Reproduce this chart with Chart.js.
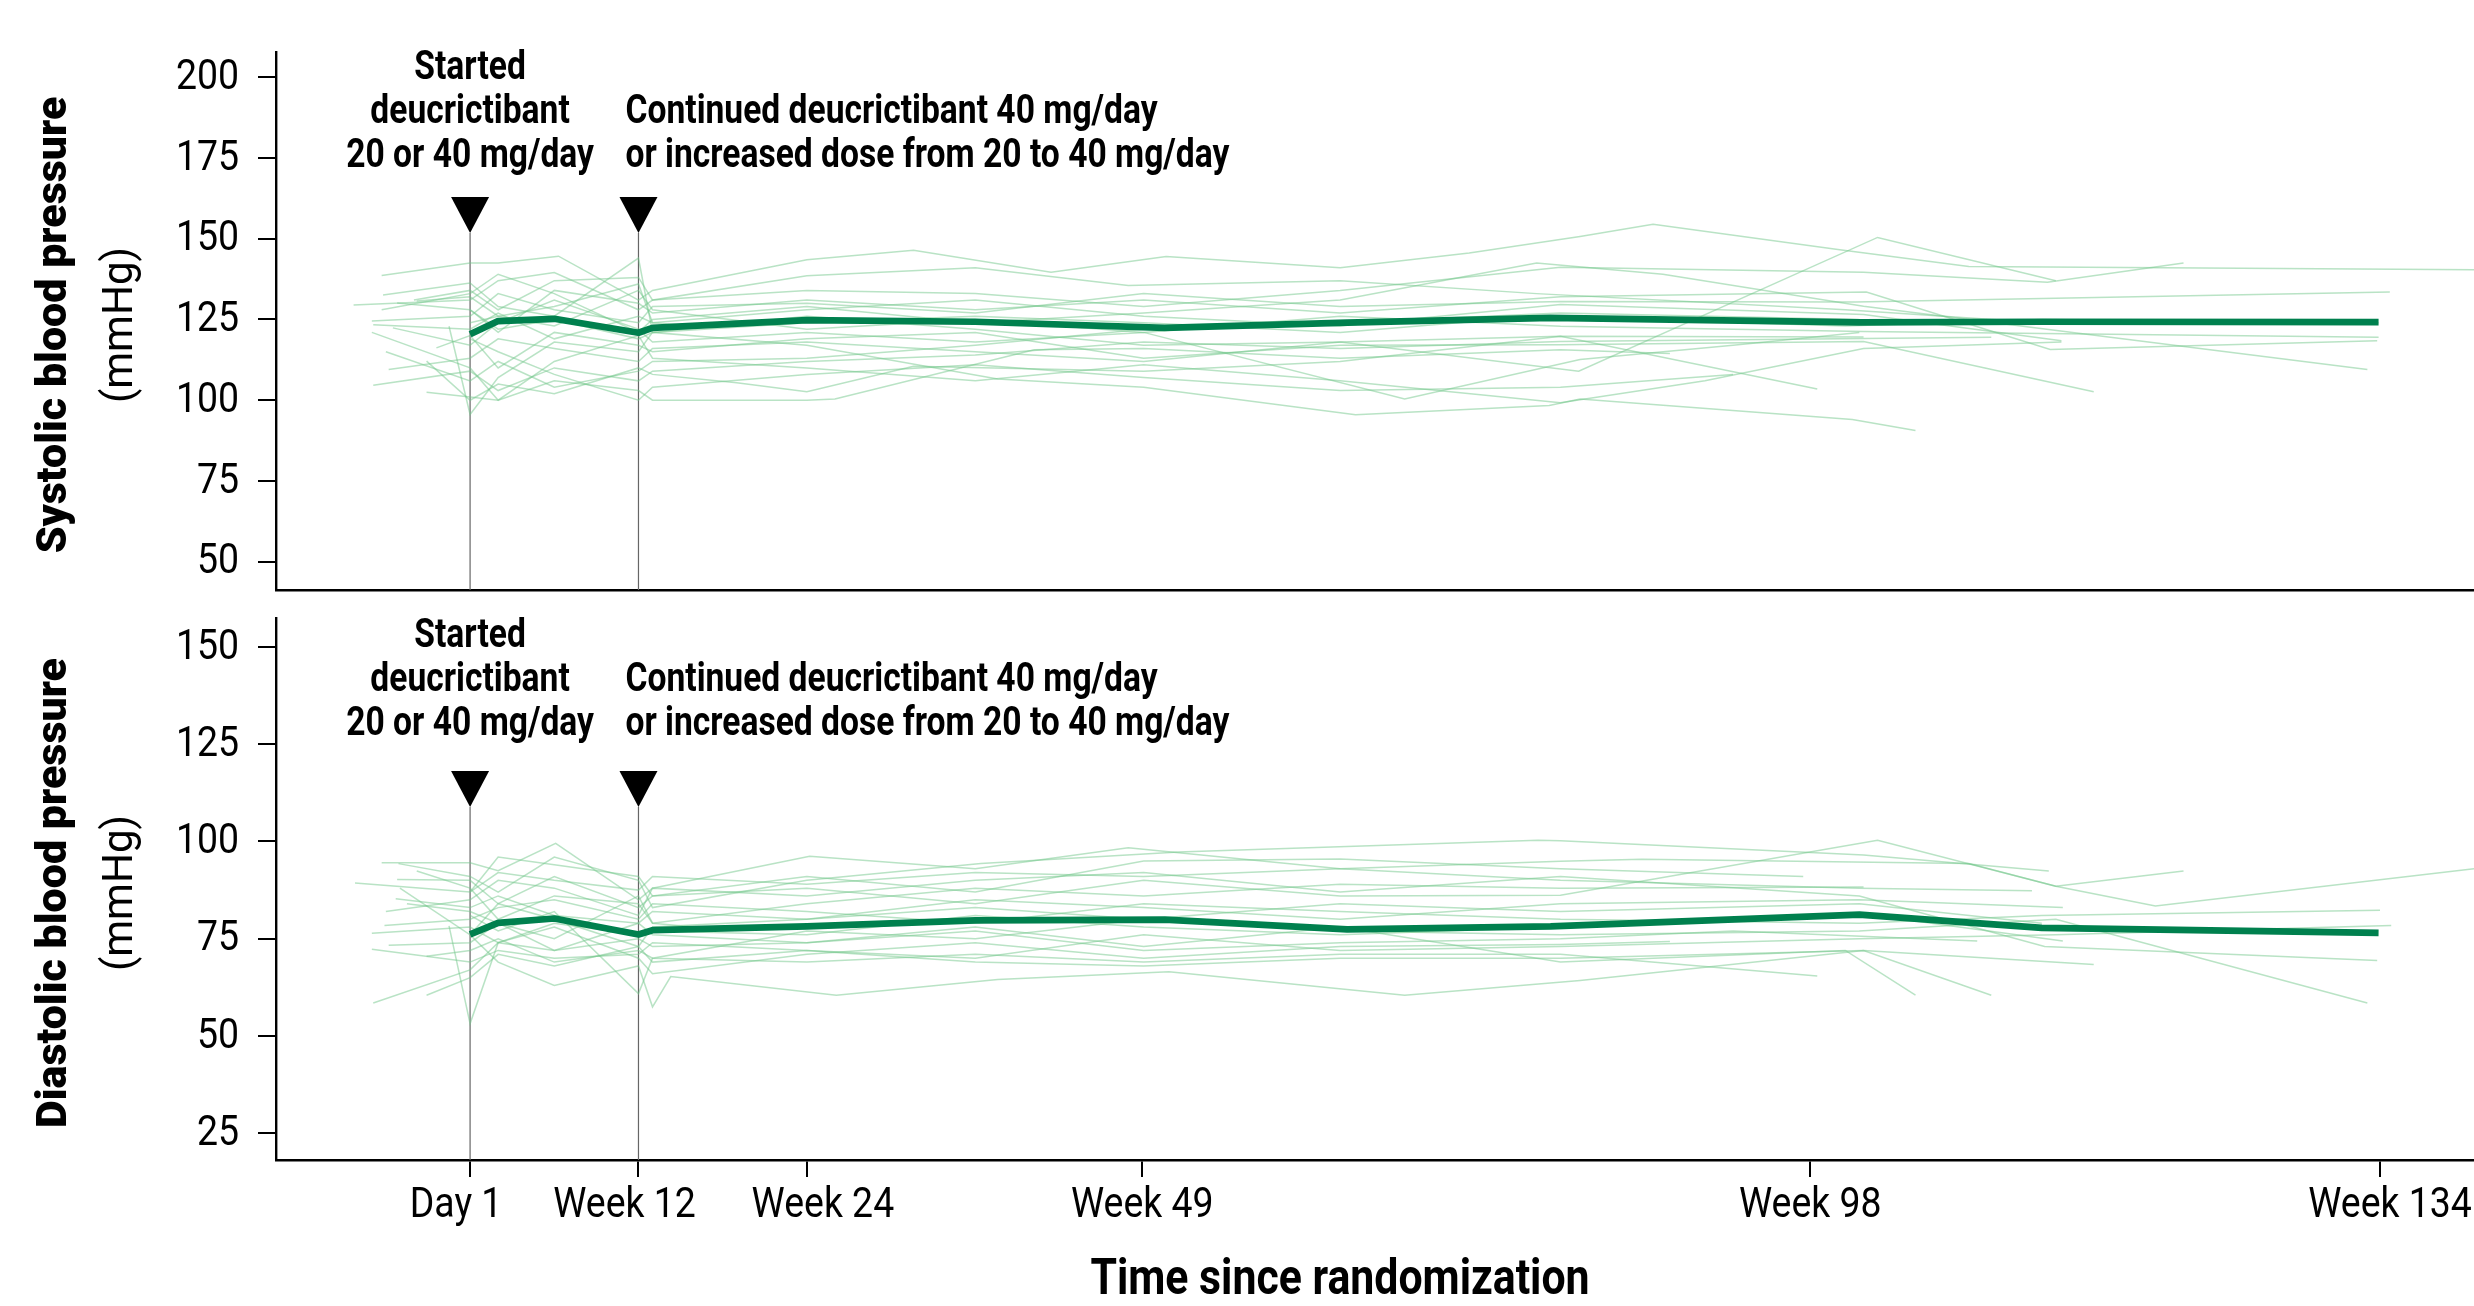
<!DOCTYPE html>
<html>
<head>
<meta charset="utf-8">
<title>Blood pressure over time</title>
<script src="https://cdn.jsdelivr.net/npm/chart.js@4.4.1/dist/chart.umd.min.js"></script>
<style>
  html, body { margin: 0; padding: 0; background: #fff; overflow: hidden; }
  #wrap { position: relative; width: 2474px; height: 1306px; }
  canvas { position: absolute; left: 0; }
  #sbpChart { top: 0; }
  #dbpChart { top: 600px; }
</style>
</head>
<body>
<div id="wrap">
  <canvas id="sbpChart" width="2474" height="600"></canvas>
  <canvas id="dbpChart" width="2474" height="706"></canvas>
</div>
<script>
// x axis: weeks since Day 1
const tickWeeks = [0, 12, 24, 47.9, 95.5, 136.1];
const tickLabels = ['Day 1', 'Week 12', 'Week 24', 'Week 49', 'Week 98', 'Week 134'];
const markerWeeks = [0, 12];
const sbpTicks = [50, 75, 100, 125, 150, 175, 200];
const dbpTicks = [25, 50, 75, 100, 125, 150];

// group mean
const meanWeeks = [0, 2, 6, 12, 13, 24, 36, 49.5, 62.5, 77, 99, 112, 136];
const sbpMean = [120.4, 124.5, 125.2, 120.9, 122.4, 124.8, 124.3, 122.4, 124, 125.5, 124.1, 124.3, 124.2];
const dbpMean = [76.1, 79.1, 80.2, 76.1, 77.2, 78.2, 79.7, 79.9, 77.4, 78.2, 81.2, 77.8, 76.5];

// individual patients, [week, mmHg]
const sbpPatients = [
  [[-6.3,138.6],[0,142.5],[2,142.5],[6.3,144.6],[12,131],[13,134],[24,143.5],[31.6,146.4],[41.4,139.6],[49.6,144.5],[62,141],[71.2,145.6],[79.1,150.7],[84.3,154.5],[97.6,146.6],[106.8,141.4],[142.8,140.4]],
  [[-8.3,129.5],[0,131],[2,137],[6,139.5],[12,128],[13,131],[24,134],[36,133],[48,129],[62,134],[77.7,141.2],[99.3,139.6],[112.4,136.5],[122.1,142.5]],
  [[-6.2,132.6],[0,136.3],[2,129],[6,126],[12,144],[13,121],[24,126],[36,122],[48,117],[62,118],[79,109],[100.3,150.4],[113,137]],
  [[-5.2,130.1],[0,128],[2,121],[6,134],[12,130],[13,127],[24,131],[36,128],[48,131],[62,127],[77.7,132],[99.5,133.5],[112.6,115.7],[135.9,118.4]],
  [[-7,124.5],[0,126],[2,133],[6,128],[12,124],[13,129],[24,130],[36,127],[48,133],[62,129],[77.7,130.6],[98.7,130.4],[136.8,133.5]],
  [[-6.9,123.4],[0,122],[2,127],[6,119],[12,126],[13,124],[24,128],[36,131],[48,126],[62,123],[77.7,129.6],[99.3,126.5],[113.4,118.4]],
  [[-5.5,122.4],[0,117],[2,124],[6,131],[12,122],[13,118],[24,121],[36,118],[48,121],[62,126],[77.7,122.9],[99.3,121.3],[136,119.5]],
  [[-5.8,109.5],[0,113],[2,119],[6,116],[12,112],[13,116],[24,118],[36,115],[48,112],[62,118],[77.7,119.8],[99.3,119.6]],
  [[-6.9,104.6],[0,109],[2,103],[6,110],[12,106],[13,109],[24,112],[36,114],[48,118],[62,116],[77.7,118.2],[108.4,119.5]],
  [[-3.1,102.5],[0,101],[2,100],[6,106],[12,103],[13,100],[24,100],[26,100.4],[40.2,115.6],[48,116],[62,113],[77.7,115.6],[85.5,114.5]],
  [[-2.4,116.2],[0,120],[2,110],[6,121],[12,117],[13,115],[24,119],[36,121],[48,113],[62,117],[77.7,117.2],[99.3,118.2],[115.7,102.6]],
  [[-3.1,112.1],[0,100],[2,105],[6,102],[12,110],[13,108],[19,105.4],[24,102.6],[31.6,110.5],[48,109],[62,112],[77.7,119.8],[96,103.5]],
  [[-1.5,122.9],[0,95.6],[2,107],[6,118],[12,115],[13,121],[24,117],[37.6,106.6],[48,104],[63.1,95.5],[76.9,98.4],[79.1,100.4],[98.5,94],[103,90.6]],
  [[-6.3,128],[0,133],[2,139],[6,133],[12,121],[13,125],[24,129],[36,124],[48,127],[62,131],[76,142.5],[85,139],[99.3,129.1],[135.2,109.5]],
  [[0,124],[2,126],[6,123],[12,134],[13,128],[24,122],[36,125],[48,121],[66.6,100.4],[79.1,112.6],[90,117],[99,121]],
  [[-4,131],[0,134],[2,128],[6,137],[12,138],[13,131],[24,138.5],[36,141],[46.9,135.5],[62,137],[76,133],[98,128],[112,124]],
  [[-3.8,130.7],[0,132],[2,126],[6,129],[12,136],[13,124],[16,123]],
  [[-7,121],[0,110],[2,100],[6,112],[12,120],[13,113],[24,110],[36,106],[48,111],[62,106],[77.7,99.2],[88,106],[99.3,116],[113.4,118]],
  [[0,119],[2,115],[6,108],[12,100],[13,104],[24,108],[36,111],[48,107],[62,103],[77.7,104],[90,108]],
  [[-6,115],[0,106],[2,112],[6,104],[12,109],[13,112],[24,113],[36,117],[48,122],[62,124],[77.7,127],[99,125]],
  [[0,128],[2,122],[6,125],[12,119],[13,121],[24,124],[36,126],[48,124],[62,121],[76,126],[98,123],[112,125],[136,124]]
];

const dbpPatients = [
  [[-6.3,94.5],[0,94.5],[2,92.5],[6.1,99.5],[12,85],[13,88],[24.2,96.2],[36,93],[46.9,98.4],[62,93],[77.7,90],[99,88],[111.3,87.3]],
  [[-5.1,94.3],[0,91],[2,87],[6,96],[12,90],[13,83],[24,90],[36.4,94.3],[50.5,97.3],[76.1,100.3],[77.7,100.2],[99.3,96.5],[112.5,92.4]],
  [[-8.2,89.3],[0,87],[2,92],[6,90],[12,87.5],[13,91],[24,89],[36,92],[48,91],[62,93],[77.7,94.9],[83.5,95.4],[106.8,94.3],[113,88.5],[120.1,83.4],[142.8,93]],
  [[-5.2,90.2],[0,90],[2,84],[6,91],[12,83],[13,86],[24,88],[36,84],[48,90],[62,86],[77.7,86.2],[100.3,100.3],[113,88.5],[122.1,92.4]],
  [[-3.8,92.4],[0,88],[2,80],[6,86],[12,84],[13,79],[24,84],[36,88],[48,86],[62,89],[77.7,88],[99.3,88.3]],
  [[-5.3,85.3],[0,83],[2,86],[6,81],[12,79],[13,82],[24,80],[36,85],[48,83],[62,80],[77.7,84],[99,85],[113.5,83]],
  [[-6.1,78.4],[0,80],[2,83],[6,85],[12,80],[13,84],[24,82],[36,79],[48,84],[62,82],[77.7,80],[99,79],[112,81],[136.1,82.3]],
  [[-7,76.4],[0,78],[2,74],[6,79],[12,76],[13,77],[24,76],[36,81],[48,78],[62,76],[77.7,78],[99,81.5],[113.5,74.4]],
  [[-5.8,73.3],[0,74],[2,79],[6,72],[12,75],[13,73],[24,74],[36,77],[48,72],[62,74],[77.7,75],[90,77],[107.4,74.4]],
  [[-7,72.3],[0,69],[2,72],[6,70],[12,71],[13,74],[24,72],[36,70],[48,76],[62,72],[77.7,73],[99,75],[113,76],[136.9,78.4]],
  [[-3.1,70.5],[0,72],[2,75],[6,69],[12,72],[13,70],[24,69],[36,71],[48,69],[62,71],[77.7,71],[96,65.4]],
  [[-6.9,58.5],[0,67],[2,74],[6,78],[12,70],[13,66],[24,71],[36,74],[48,70],[62,73],[77.7,73.5],[85.5,74.3]],
  [[-3.1,60.5],[0,65],[2,71],[6,68],[12,73],[13,69],[24,72],[36,69],[48,68],[62,70],[77.7,70],[99.3,72],[115.7,68.4]],
  [[-1.5,78.3],[0,53.2],[2,74],[6,72],[12,79],[13,76],[24,74],[36,78],[48,73],[62,78],[77.7,69],[98,72],[103,60.5]],
  [[0,76],[2,69],[6,63],[12,68],[13,57.5],[14.3,65.3],[26.1,60.5],[37.6,64.5],[49.8,66.5],[66.6,60.5],[79.1,64.3],[99.3,72],[108.4,60.5]],
  [[-6,82],[0,85],[2,90],[6,88],[12,81],[13,88],[24,86],[36,90],[48,92],[62,87],[77.7,91],[99,86],[112.2,73],[135.9,69.4]],
  [[0,81],[2,77],[6,82],[12,60.9],[13,70],[24,77],[36,75],[48,80],[62,77],[77.7,76],[99,77],[113,80],[135.2,58.5]],
  [[-4.5,84],[0,82],[2,79],[6,75],[12,86],[13,79],[16,78]],
  [[0,87],[2,96],[6,94],[12,91],[13,86],[24,91],[36,87],[48,95],[62,95.5],[77.7,93],[95,91]],
  [[-5,88],[0,76],[2,84],[6,80],[12,73],[13,78],[24,80],[36,83],[48,80],[62,84],[77.7,82],[99,84],[112,79]]
];

const startText = ['Started', 'deucrictibant', '20 or 40 mg/day'];
const contText = ['Continued deucrictibant 40 mg/day', 'or increased dose from 20 to 40 mg/day'];

// per-panel layout
const panels = {
  sbpChart: { title: 'Systolic blood pressure', ticks: sbpTicks, textTop: 27, triTop: 145, tip: 181, xLabels: false },
  dbpChart: { title: 'Diastolic blood pressure', ticks: dbpTicks, textTop: 29, triTop: 153, tip: 189, xLabels: true }
};
const xLabelNudge = [-14, -14, 16, 0, 0, 10];

function drawText(ctx, text, x, y, o) {
  ctx.save();
  ctx.font = o.font;
  ctx.fillStyle = '#000';
  ctx.textAlign = o.align || 'left';
  ctx.textBaseline = o.baseline || 'alphabetic';
  ctx.translate(x, y);
  if (o.rotate) ctx.rotate(o.rotate);
  ctx.scale(o.sx || 1, 1);
  ctx.fillText(text, 0, 0);
  ctx.restore();
}

const panelDecor = {
  id: 'panelDecor',
  beforeDatasetsDraw(chart) {
    const p = panels[chart.canvas.id];
    const { ctx, chartArea: a } = chart;
    const x = chart.scales.x;
    ctx.save();
    ctx.strokeStyle = '#666';
    ctx.lineWidth = 1.2;
    markerWeeks.forEach(w => {
      const px = x.getPixelForValue(w);
      ctx.beginPath();
      ctx.moveTo(px, a.top + p.tip);
      ctx.lineTo(px, a.bottom);
      ctx.stroke();
    });
    ctx.restore();
  },
  afterDraw(chart) {
    const p = panels[chart.canvas.id];
    const { ctx, chartArea: a } = chart;
    const x = chart.scales.x, y = chart.scales.y;

    // triangles
    ctx.save();
    ctx.fillStyle = '#000';
    markerWeeks.forEach(w => {
      const px = x.getPixelForValue(w);
      ctx.beginPath();
      ctx.moveTo(px - 19, a.top + p.triTop);
      ctx.lineTo(px + 19, a.top + p.triTop);
      ctx.lineTo(px, a.top + p.tip);
      ctx.closePath();
      ctx.fill();
    });
    ctx.restore();

    // annotations
    const annFont = 'bold 40px Roboto';
    const x0 = x.getPixelForValue(markerWeeks[0]);
    const x1 = x.getPixelForValue(markerWeeks[1]);
    startText.forEach((t, i) => {
      drawText(ctx, t, x0, a.top + p.textTop + i * 44, { font: annFont, align: 'center', sx: 0.84 });
    });
    contText.forEach((t, i) => {
      drawText(ctx, t, x1 - 13, a.top + p.textTop + (i + 1) * 44, { font: annFont, align: 'left', sx: 0.84 });
    });

    // y tick labels
    p.ticks.forEach(v => {
      drawText(ctx, String(v), a.left - 37, y.getPixelForValue(v) + 1, { font: '43px Roboto', align: 'right', baseline: 'middle', sx: 0.87 });
    });

    // y titles
    const cy = (a.top + a.bottom) / 2 + 4;
    drawText(ctx, p.title, 55, cy, { font: '900 43px Roboto', align: 'center', baseline: 'middle', rotate: -Math.PI / 2 });
    drawText(ctx, '(mmHg)', 121, cy, { font: '42px Roboto', align: 'center', baseline: 'middle', rotate: -Math.PI / 2 });

    if (p.xLabels) {
      tickWeeks.forEach((w, i) => {
        drawText(ctx, tickLabels[i], x.getPixelForValue(w) + xLabelNudge[i], a.bottom + 57, { font: '43px Roboto', align: 'center', sx: 0.87 });
      });
      drawText(ctx, 'Time since randomization', 1340, a.bottom + 134, { font: 'bold 50px Roboto', align: 'center', sx: 0.856 });
    }
  }
};

function makeChart(id, patients, mean, yMin, yMax, yTicks, padTop, xHeight, showXTicks) {
  const datasets = [{
    data: meanWeeks.map((w, i) => ({ x: w, y: mean[i] })),
    borderColor: '#00804e',
    borderWidth: 6.7,
    borderJoinStyle: 'round',
    pointRadius: 0,
    order: 0
  }];
  patients.forEach(pt => {
    datasets.push({
      data: pt.map(([w, v]) => ({ x: w, y: v })),
      borderColor: 'rgba(115, 200, 140, 0.5)',
      borderWidth: 1.5,
      pointRadius: 0,
      order: 1
    });
  });

  return new Chart(document.getElementById(id), {
    type: 'line',
    data: { datasets },
    plugins: [panelDecor],
    options: {
      responsive: false,
      animation: false,
      devicePixelRatio: 1,
      events: [],
      layout: { padding: { top: padTop, left: 0, right: 0, bottom: 0 } },
      plugins: { legend: { display: false }, tooltip: { enabled: false } },
      scales: {
        x: {
          type: 'linear',
          min: -13.83,
          max: 142.8,
          afterBuildTicks: s => { s.ticks = tickWeeks.map(v => ({ value: v })); },
          afterFit: s => { s.height = xHeight; },
          ticks: { display: false },
          grid: { display: showXTicks, drawOnChartArea: false, drawTicks: true, tickLength: 17, color: '#000', lineWidth: 2 },
          border: { display: true, color: '#000', width: 2.4 }
        },
        y: {
          type: 'linear',
          min: yMin,
          max: yMax,
          afterBuildTicks: s => { s.ticks = yTicks.map(v => ({ value: v })); },
          afterFit: s => { s.width = 276; },
          ticks: { display: false },
          grid: { display: true, drawOnChartArea: false, drawTicks: true, tickLength: 18, color: '#000', lineWidth: 2 },
          border: { display: true, color: '#000', width: 2.4 }
        }
      }
    }
  });
}

makeChart('sbpChart', sbpPatients, sbpMean, 41.25, 207.8, sbpTicks, 52, 10, false);
makeChart('dbpChart', dbpPatients, dbpMean, 18.16, 157.4, dbpTicks, 18, 146, true);
</script>
</body>
</html>
